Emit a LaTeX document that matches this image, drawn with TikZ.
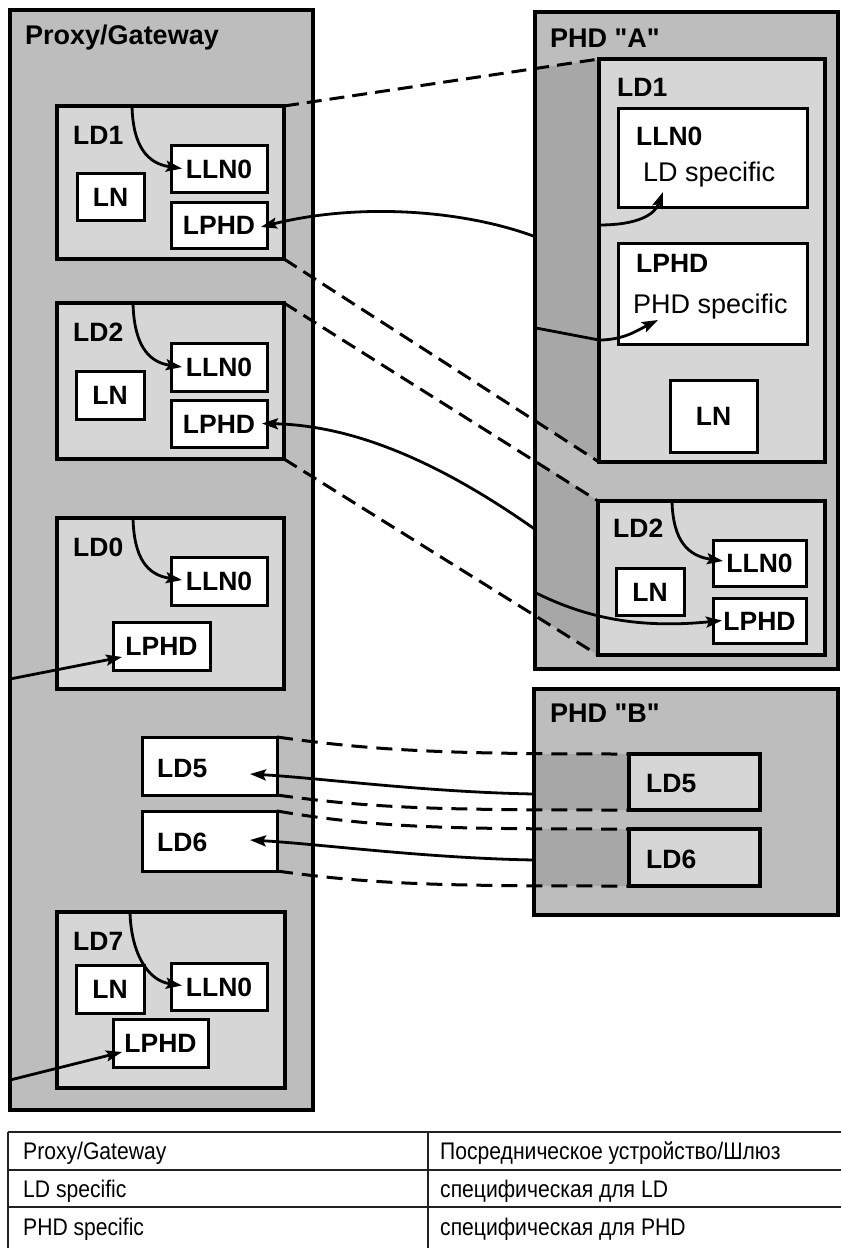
\documentclass[tikz,border=0pt]{standalone}
\usepackage{fontspec}
\setmainfont{Liberation Sans}[Ligatures=TeXOff]
\newfontfamily\narrowfont{Liberation Sans}[FakeStretch=0.88]
\usetikzlibrary{arrows.meta,calc}
\definecolor{outergray}{HTML}{BDBDBD}
\definecolor{ldgray}{HTML}{D6D6D6}
\definecolor{sidegray}{HTML}{A7A7A7}
\definecolor{tblline}{HTML}{222222}
\newcommand\lblfont{\bfseries\fontsize{26.5}{30}\selectfont}
\newcommand\titlefont{\bfseries\fontsize{27}{32}\selectfont}
\newcommand\regfont{\fontsize{27}{31}\selectfont}
\newcommand\tblfont{\narrowfont\fontsize{24}{28}\selectfont}
\newcommand\mkbox[7]{\node[#1, minimum width=#5pt-#3pt, minimum height=#6pt-#4pt] (#2) at (#3,#4) {#7};}
\tikzset{
  outerbox/.style={draw=black, line width=3.5pt, fill=outergray, inner sep=0pt, outer sep=0pt, anchor=north west},
  ldbox/.style={draw=black, line width=3.2pt, fill=ldgray, inner sep=0pt, outer sep=0pt, anchor=north west},
  lnbox/.style={draw=black, line width=3pt, fill=white, inner sep=0pt, outer sep=0pt, anchor=north west, font=\lblfont, text height=19pt, text depth=0pt},
  lbl/.style={inner sep=0pt, anchor=west, font=\lblfont, text height=19pt, text depth=0pt},
  ttl/.style={inner sep=0pt, anchor=west, font=\titlefont, text height=19.3pt, text depth=0pt},
  reg/.style={inner sep=0pt, anchor=west, font=\regfont, text height=19.3pt, text depth=0pt},
  tbltxt/.style={inner sep=0pt, anchor=west, font=\tblfont, text height=17.2pt, text depth=0pt},
  arr/.style={draw=black, line width=2.8pt, -{Stealth[length=16pt, width=11pt, inset=3pt]}},
  plainline/.style={draw=black, line width=2.8pt},
  dashA/.style={draw=black, line width=3pt, dash pattern=on 15pt off 8pt},
  dashB/.style={draw=black, line width=3pt, dash pattern=on 16pt off 9pt},
  tbl/.style={draw=tblline, line width=1.4pt},
}
\begin{document}
\begin{tikzpicture}[x=1pt,y=-1pt]
\useasboundingbox (0,0) rectangle (841,1248);
\fill[white] (0,0) rectangle (841,1248);

% ---------- Proxy / Gateway ----------
\mkbox{outerbox}{proxy}{10}{10}{313}{1110}{}
\node[ttl] (tProxy) at (25,35) {Proxy/Gateway};

% ---------- PHD A ----------
\mkbox{outerbox}{phdA}{535}{12}{838}{669}{}
\fill[sidegray] (537,68.5) -- (599,59) -- (599,462) -- (537,421) -- cycle;
\fill[sidegray] (537,461) -- (598,501) -- (598,655) -- (537,616) -- cycle;
\node[ttl] (tPHDA) at (550,38) {PHD "A"};

% ---------- PHD B ----------
\mkbox{outerbox}{phdB}{534}{689}{838}{915}{}
\fill[sidegray] (536,754) -- (629,754) -- (629,810) -- (536,810) -- cycle;
\fill[sidegray] (536,829) -- (629,829) -- (629,886) -- (536,886) -- cycle;
\node[ttl] (tPHDB) at (550,713) {PHD "B"};

% ---------- Proxy LD1 ----------
\mkbox{ldbox}{pLD1}{57}{106}{284}{259}{}
\node[lbl] (tpLD1) at (73,135) {LD1};
\mkbox{lnbox}{pLD1ln}{77}{173}{144}{220}{LN}
\mkbox{lnbox}{pLD1lln}{171}{145}{267}{192}{LLN0}
\mkbox{lnbox}{pLD1lph}{171}{202}{267}{248}{LPHD}

% ---------- Proxy LD2 ----------
\mkbox{ldbox}{pLD2}{57}{303}{284}{459}{}
\node[lbl] (tpLD2) at (73,332) {LD2};
\mkbox{lnbox}{pLD2ln}{76}{371}{144}{419}{LN}
\mkbox{lnbox}{pLD2lln}{171}{343}{267}{391}{LLN0}
\mkbox{lnbox}{pLD2lph}{171}{400}{267}{447}{LPHD}

% ---------- Proxy LD0 ----------
\mkbox{ldbox}{pLD0}{57}{518}{284}{689}{}
\node[lbl] (tpLD0) at (73,547) {LD0};
\mkbox{lnbox}{pLD0lln}{171}{557}{267}{605}{LLN0}
\mkbox{lnbox}{pLD0lph}{113}{622}{210}{670}{LPHD}

% ---------- Proxy LD5 / LD6 ----------
\mkbox{lnbox}{pLD5}{142}{737}{277}{795}{}
\node[lbl] (tpLD5) at (157,768) {LD5};
\mkbox{lnbox}{pLD6}{142}{811}{277}{871}{}
\node[lbl] (tpLD6) at (157,842) {LD6};

% ---------- Proxy LD7 ----------
\mkbox{ldbox}{pLD7}{57}{912}{285}{1088}{}
\node[lbl] (tpLD7) at (73,941) {LD7};
\mkbox{lnbox}{pLD7ln}{76}{965}{144}{1013}{LN}
\mkbox{lnbox}{pLD7lln}{171}{963}{267}{1010}{LLN0}
\mkbox{lnbox}{pLD7lph}{113}{1019}{208}{1067}{LPHD}

% ---------- PHD A LD1 ----------
\mkbox{ldbox}{aLD1}{599}{59}{825}{462}{}
\node[lbl] (taLD1) at (617,87) {LD1};
\mkbox{lnbox}{aLD1lln}{618}{108}{807}{207}{}
\node[lbl] (taLLN) at (636,136) {LLN0};
\node[reg] (taLDs) at (643,172) {LD specific};
\mkbox{lnbox}{aLD1lph}{618}{243}{807}{344}{}
\node[lbl] (taLPH) at (636,263) {LPHD};
\node[reg] (taPHs) at (633,304) {PHD specific};
\mkbox{lnbox}{aLD1ln}{670}{380}{757}{452}{LN}

% ---------- PHD A LD2 ----------
\mkbox{ldbox}{aLD2}{598}{501}{825}{655}{}
\node[lbl] (taLD2) at (613,528) {LD2};
\mkbox{lnbox}{aLD2ln}{616}{568}{684}{615}{LN}
\mkbox{lnbox}{aLD2lln}{713}{540}{806}{586}{LLN0}
\mkbox{lnbox}{aLD2lph}{713}{598}{806}{643}{LPHD}

% ---------- PHD B LD5 / LD6 ----------
\mkbox{ldbox}{bLD5}{629}{754}{760}{810}{}
\node[lbl] (tbLD5) at (646,783) {LD5};
\mkbox{ldbox}{bLD6}{629}{829}{760}{886}{}
\node[lbl] (tbLD6) at (646,859) {LD6};

% ---------- free ends on the device borders ----------
\coordinate (eA1) at (536,237);
\coordinate (eA2) at (536,328);
\coordinate (kA2) at (599,340);
\coordinate (eA3) at (536,530);
\coordinate (eA4) at (536,593);
\coordinate (sA1) at (599,225);
\coordinate (eP0) at (10,679);
\coordinate (eP7) at (10,1080);
\coordinate (eB5) at (534,794);
\coordinate (eB6) at (534,860);

% ---------- dashed correspondences ----------
\draw[dashA] (pLD1.north east) -- (aLD1.north west);
\draw[dashA] (pLD1.south east) -- (aLD1.south west);
\draw[dashA] (pLD2.north east) -- (aLD2.north west);
\draw[dashA] (pLD2.south east) -- (aLD2.south west);
\draw[dashB] (pLD5.north east) .. controls +(100,14) and +(-180,0) .. (bLD5.north west);
\draw[dashB] (pLD5.south east) .. controls +(100,14) and +(-180,0) .. (bLD5.south west);
\draw[dashB] (pLD6.north east) .. controls +(100,17) and +(-180,0) .. (bLD6.north west);
\draw[dashB] (pLD6.south east) .. controls +(100,14) and +(-180,0) .. (bLD6.south west);

% ---------- LLN0 arrows from LD tops ----------
\draw[arr] ($(pLD1.north west)+(75,0)$) .. controls +(1,40) and +(-35,-5) .. ($(pLD1lln.west)+(11,0)$);
\draw[arr] ($(pLD2.north west)+(76,0)$) .. controls +(1,40) and +(-35,-5) .. ($(pLD2lln.west)+(11,0)$);
\draw[arr] ($(pLD0.north west)+(76,0)$) .. controls +(1,40) and +(-35,-5) .. ($(pLD0lln.west)+(11,-1)$);
\draw[arr] ($(pLD7.north west)+(73,0)$) .. controls +(1,40) and +(-35,-5) .. ($(pLD7lln.west)+(11,-1)$);
\draw[arr] ($(aLD2.north west)+(74,0)$) .. controls +(1,40) and +(-35,-5) .. ($(aLD2lln.west)+(10,-2)$);

% ---------- LPHD links ----------
\draw[arr] (eA1) .. controls +(-75,-28) and +(95,-24) .. ($(pLD1lph.east)+(-6,2)$);
\draw[arr] (eA3) .. controls +(-85,-60) and +(100,2) .. ($(pLD2lph.east)+(-5,0)$);
\draw[arr] (eP0) -- ($(pLD0lph.south west)+(9,-13)$);
\draw[arr] (eP7) -- ($(pLD7lph.south west)+(9,-15)$);
\draw[arr] (eB5) .. controls +(-110,-2) and +(70,4) .. ($(pLD5.west)+(108,8)$);
\draw[arr] (eB6) .. controls +(-110,-2) and +(70,4) .. ($(pLD6.west)+(108,-1)$);

% ---------- PHD A internal links ----------
\draw[arr] (sA1) .. controls +(40,0) and +(-8,22) .. ($(aLD1lln.south west)+(45,-15)$);
\draw[plainline] (eA2) -- (kA2);
\draw[arr] (kA2) .. controls +(25,0) and +(-20,10) .. ($(aLD1lph.south west)+(40,-24)$);
\draw[arr] (eA4) .. controls +(45,22) and +(-90,9) .. ($(aLD2lph.west)+(9,0)$);

% ---------- legend table ----------
\draw[tbl] (8,1132) -- (841,1132);
\draw[tbl] (8,1170) -- (841,1170);
\draw[tbl] (8,1207) -- (841,1207);
\draw[tbl] (8,1132) -- (8,1248);
\draw[tbl] (428,1132) -- (428,1248);
\node[tbltxt] (r1a) at (23,1151) {Proxy/Gateway};
\node[tbltxt] (r1b) at (440,1151) {Посредническое устройство/Шлюз};
\node[tbltxt] (r2a) at (23,1189) {LD specific};
\node[tbltxt] (r2b) at (440,1189) {специфическая для LD};
\node[tbltxt] (r3a) at (23,1227) {PHD specific};
\node[tbltxt] (r3b) at (440,1227) {специфическая для PHD};
\end{tikzpicture}
\end{document}
